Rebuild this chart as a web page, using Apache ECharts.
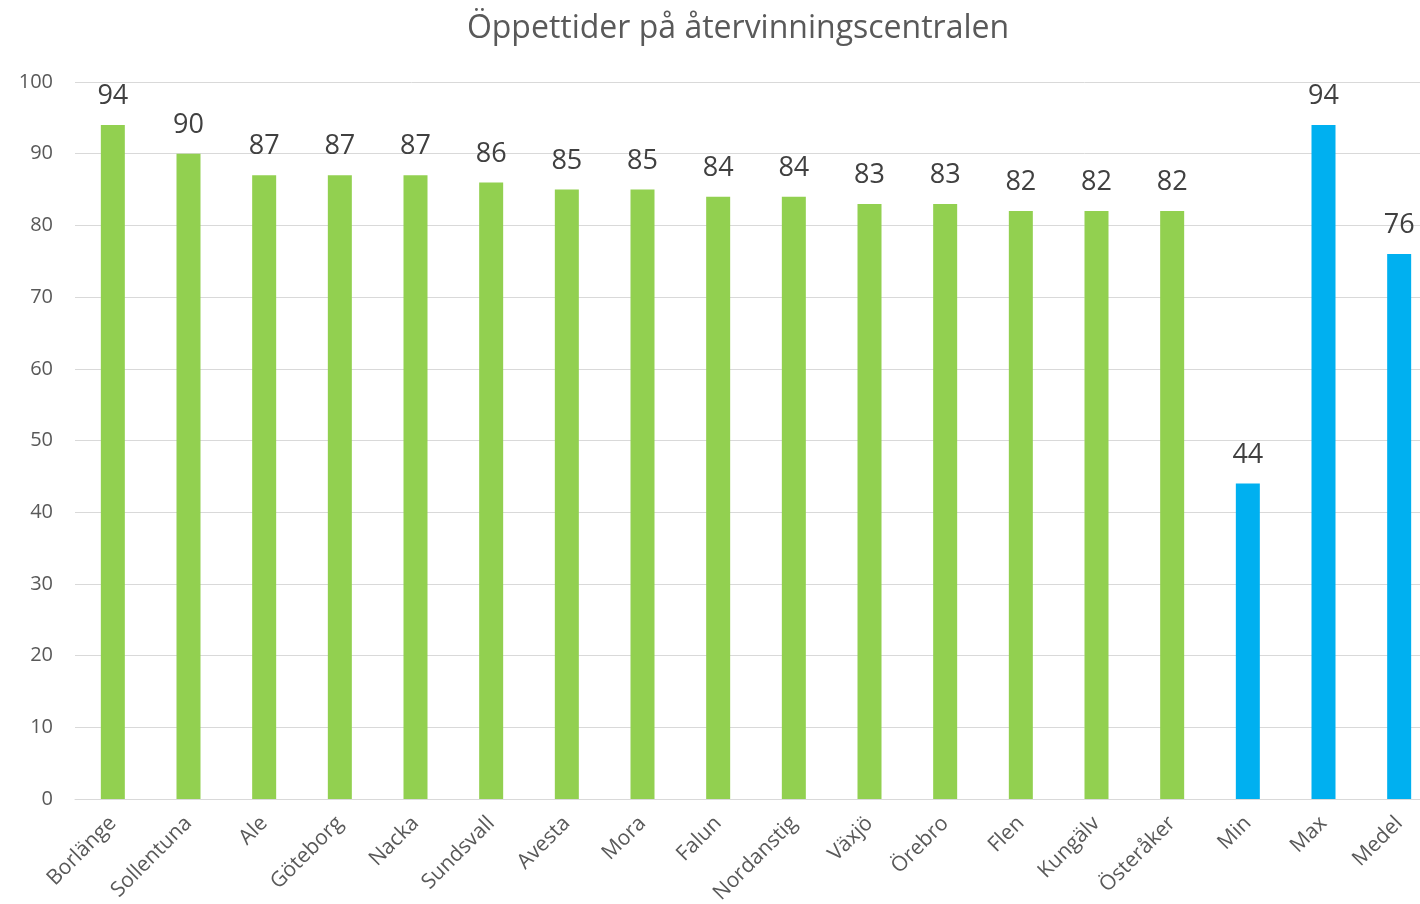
<!DOCTYPE html>
<html>
<head>
<meta charset="utf-8">
<script src="https://cdn.jsdelivr.net/npm/echarts@6/dist/echarts.min.js"></script>
<style>
  html, body { margin: 0; padding: 0; background: #fff; }
  #chart { width: 1420px; height: 904px; }
</style>
</head>
<body>
<div id="chart"></div>
<script>
// kommuner + sammanfattning
var categories = ['Borlänge', 'Sollentuna', 'Ale', 'Göteborg', 'Nacka', 'Sundsvall', 'Avesta', 'Mora',
    'Falun', 'Nordanstig', 'Växjö', 'Örebro', 'Flen', 'Kungälv', 'Österåker', 'Min', 'Max', 'Medel'];
var hours = [94, 90, 87, 87, 87, 86, 85, 85, 84, 84, 83, 83, 82, 82, 82, 44, 94, 76];
var summaryNames = ['Min', 'Max', 'Medel'];

var chart = echarts.init(document.getElementById('chart'));
var font = '"Open Sans", "Noto Sans", sans-serif';

var option = {
    animation: false,
    title: {
        text: 'Öppettider på återvinningscentralen',
        left: 733,
        textAlign: 'center',
        top: 8,
        textStyle: { fontFamily: font, fontSize: 32, fontWeight: 'normal', color: '#595959' }
    },
    grid: { left: 75, top: 82, width: 1362, height: 717, outerBoundsMode: 'none' },
    xAxis: {
        type: 'category',
        data: categories,
        axisLine: { lineStyle: { color: '#d9d9d9', width: 1 } },
        axisTick: { show: false },
        axisLabel: {
            rotate: 45,
            margin: 21,
            interval: 0,
            fontFamily: font,
            fontSize: 21,
            color: '#595959'
        }
    },
    yAxis: {
        type: 'value',
        min: 0,
        max: 100,
        interval: 10,
        axisLine: { show: false },
        axisTick: { show: false },
        splitLine: { lineStyle: { color: '#d9d9d9', width: 1 } },
        axisLabel: { fontFamily: font, fontSize: 20, color: '#595959', margin: 22 }
    },
    series: [{
        type: 'bar',
        data: hours,
        barWidth: 24,
        itemStyle: {
            color: function (p) {
                return summaryNames.indexOf(p.name) >= 0 ? '#00B0F0' : '#92D050';
            }
        },
        label: {
            show: true,
            position: 'top',
            distance: 15,
            fontFamily: font,
            fontSize: 27,
            color: '#404040'
        }
    }]
};
chart.setOption(option);
</script>
</body>
</html>
